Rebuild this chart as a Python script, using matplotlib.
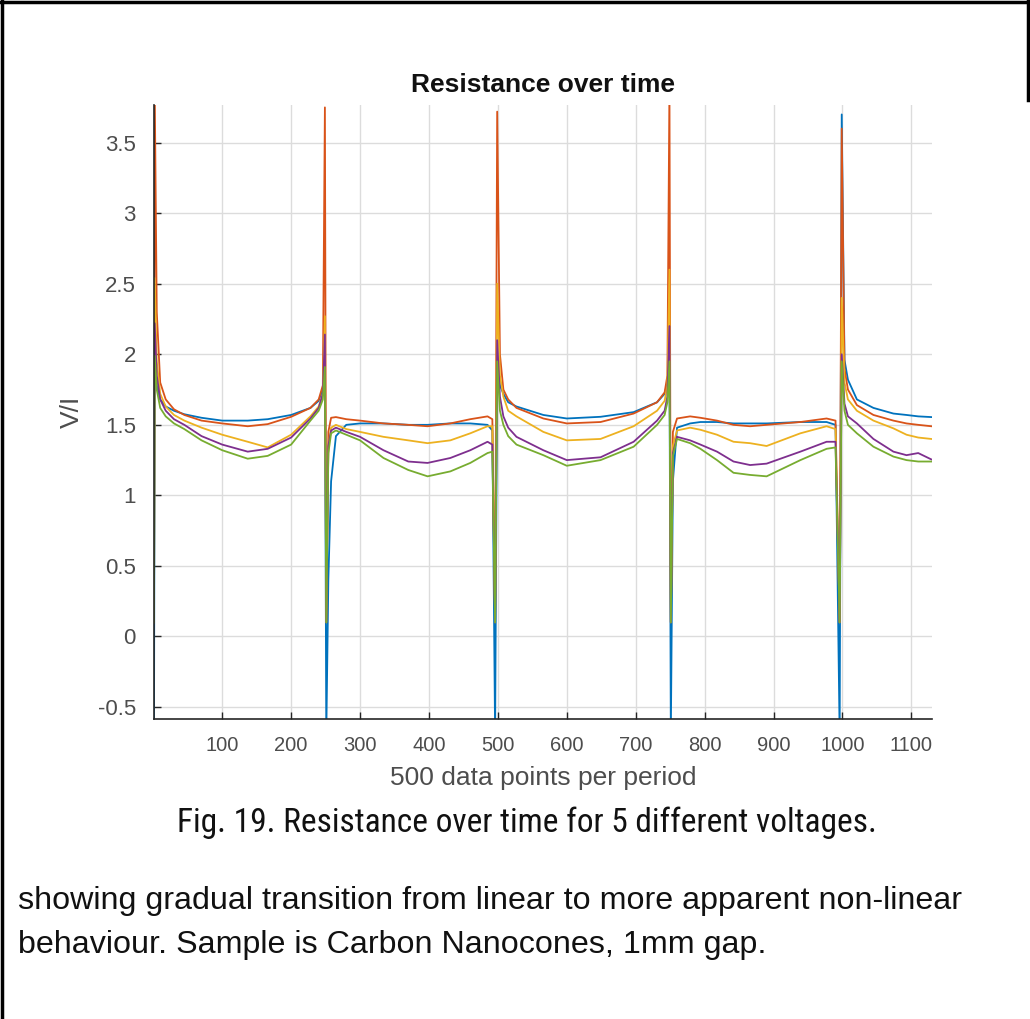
import matplotlib
matplotlib.use("Agg")
import matplotlib.pyplot as plt
from matplotlib.lines import Line2D

# sample index (shared by all five voltage runs)
x = [1, 2, 5, 10, 18, 30, 45, 70, 100, 137, 166, 200, 228, 240, 246, 249,
     251, 254, 258, 265, 280, 300, 334, 370, 398, 431, 460, 485, 492,
     496, 499, 503, 508, 515, 527, 566, 600, 649, 697, 731, 742, 746, 749,
     751, 754, 760, 779, 794, 818, 842, 866, 890, 939, 977, 990,
     996, 999, 1003, 1008, 1021, 1045, 1074, 1093, 1110, 1129]

r_blue = [-0.7, 1.95, 1.78, 1.68, 1.63, 1.60, 1.575, 1.55, 1.53, 1.53, 1.54, 1.57, 1.62, 1.67, 1.75, 2.05,
          -0.7, 0.40, 1.10, 1.42, 1.50, 1.51, 1.51, 1.50, 1.50, 1.51, 1.51, 1.50, 1.46,
          -0.7, 1.95, 1.78, 1.72, 1.66, 1.63, 1.57, 1.545, 1.557, 1.59, 1.66, 1.72, 1.80, 2.00,
          -0.7, 1.10, 1.48, 1.51, 1.52, 1.52, 1.51, 1.51, 1.51, 1.52, 1.52, 1.50,
          -0.7, 3.70, 1.96, 1.82, 1.68, 1.62, 1.58, 1.57, 1.56, 1.555]
r_orange = [0.1, 3.90, 2.30, 1.80, 1.68, 1.61, 1.57, 1.53, 1.51, 1.49, 1.505, 1.557, 1.62, 1.68, 1.78, 3.75,
            0.1, 1.45, 1.55, 1.555, 1.54, 1.53, 1.51, 1.50, 1.49, 1.51, 1.54, 1.56, 1.54,
            0.1, 3.72, 2.00, 1.75, 1.68, 1.62, 1.545, 1.51, 1.52, 1.58, 1.66, 1.73, 1.85, 3.90,
            0.1, 1.45, 1.545, 1.56, 1.55, 1.53, 1.50, 1.49, 1.50, 1.52, 1.545, 1.53,
            0.1, 3.60, 1.90, 1.75, 1.64, 1.57, 1.53, 1.51, 1.50, 1.49]
r_yellow = [0.1, 2.54, 1.95, 1.72, 1.63, 1.57, 1.53, 1.48, 1.43, 1.38, 1.34, 1.43, 1.56, 1.63, 1.72, 2.27,
            0.1, 1.35, 1.48, 1.50, 1.47, 1.45, 1.415, 1.39, 1.37, 1.39, 1.44, 1.49, 1.49,
            0.1, 2.50, 1.85, 1.70, 1.60, 1.56, 1.45, 1.39, 1.40, 1.49, 1.60, 1.67, 1.78, 2.60,
            0.1, 1.35, 1.46, 1.48, 1.465, 1.43, 1.38, 1.37, 1.35, 1.44, 1.49, 1.47,
            0.1, 2.40, 1.80, 1.68, 1.60, 1.53, 1.475, 1.43, 1.41, 1.40]
r_purple = [0.1, 2.22, 1.85, 1.68, 1.60, 1.54, 1.50, 1.42, 1.36, 1.31, 1.33, 1.41, 1.545, 1.62, 1.72, 2.14,
            0.1, 1.35, 1.46, 1.48, 1.45, 1.415, 1.32, 1.24, 1.23, 1.265, 1.32, 1.38, 1.36,
            0.1, 2.10, 1.70, 1.56, 1.48, 1.415, 1.32, 1.25, 1.27, 1.38, 1.53, 1.60, 1.70, 2.20,
            0.1, 1.30, 1.415, 1.39, 1.36, 1.31, 1.24, 1.215, 1.225, 1.31, 1.38, 1.38,
            0.1, 2.00, 1.65, 1.56, 1.51, 1.40, 1.31, 1.285, 1.30, 1.255]
r_green = [0.1, 1.99, 1.75, 1.62, 1.56, 1.51, 1.47, 1.39, 1.32, 1.26, 1.28, 1.36, 1.53, 1.60, 1.68, 1.91,
           0.1, 1.30, 1.44, 1.46, 1.43, 1.39, 1.265, 1.18, 1.135, 1.17, 1.23, 1.30, 1.31,
           0.1, 1.95, 1.60, 1.50, 1.42, 1.36, 1.285, 1.21, 1.25, 1.345, 1.50, 1.57, 1.66, 1.95,
           0.1, 1.28, 1.40, 1.37, 1.33, 1.25, 1.16, 1.145, 1.135, 1.25, 1.33, 1.34,
           0.1, 1.95, 1.60, 1.50, 1.44, 1.345, 1.275, 1.25, 1.24, 1.24]

series = [r_blue, r_orange, r_yellow, r_purple, r_green]
colors = ["#0072BD", "#D95319", "#EDB120", "#7E2F8E", "#77AC30"]

title = "Resistance over time"
xlabel = "500 data points per period"
ylabel = "V/I"
caption = "Fig. 19. Resistance over time for 5 different voltages."
para = ["showing gradual transition from linear to more apparent non-linear",
        "behaviour. Sample is Carbon Nanocones, 1mm gap."]

plt.rcParams["font.family"] = ["Liberation Sans", "DejaVu Sans"]

fig = plt.figure(figsize=(10.30, 10.19), dpi=100)
ax = fig.add_axes([154 / 1030, 1 - 719 / 1019, 778 / 1030, 614 / 1019])

for ys, c in zip(series, colors):
    ax.plot(x, ys, color=c, lw=1.3)

ax.set_xlim(1, 1130)
ax.set_ylim(-0.585, 3.767)
ax.set_xticks(range(100, 1101, 100))
ax.set_yticks([-0.5, 0, 0.5, 1, 1.5, 2, 2.5, 3, 3.5])
ax.set_yticklabels(["-0.5", "0", "0.5", "1", "1.5", "2", "2.5", "3", "3.5"])
ax.grid(True, color="#dcdcdc", lw=1)
ax.set_axisbelow(True)
for s in ["top", "right"]:
    ax.spines[s].set_visible(False)
for s in ["left", "bottom"]:
    ax.spines[s].set_color("#262626")
    ax.spines[s].set_linewidth(1.2)
ax.tick_params(direction="in", length=5, width=1, colors="#262626",
               labelcolor="#4d4d4d", labelsize=14.5)
ax.tick_params(axis="y", pad=13, labelsize=16)
ax.tick_params(axis="x", pad=12)

ax.set_xlabel(xlabel, fontsize=19, color="#4d4d4d", va="center")
ax.xaxis.set_label_coords(0.5, -0.096)
ax.set_ylabel(ylabel, fontsize=19, color="#4d4d4d", va="center")
ax.yaxis.set_label_coords(-0.105, 0.5)

fig.text(543 / 1030, 1 - 85 / 1019, title, ha="center", va="center",
         fontsize=19, fontweight="bold", color="#111111")

fig.text(527 / 1030, 1 - 823 / 1019, caption, ha="center", va="center",
         fontsize=24, family=["Roboto Condensed", "Open Sans Condensed",
                              "Liberation Sans Narrow", "Roboto"],
         color="#111111")
fig.text(18 / 1030, 1 - 901 / 1019, para[0], ha="left", va="center",
         fontsize=23.2, color="#111111")
fig.text(18 / 1030, 1 - 945 / 1019, para[1], ha="left", va="center",
         fontsize=23.2, color="#111111")

# frame of the screenshot
fig.add_artist(Line2D([0, 1], [0.998, 0.998], transform=fig.transFigure, color="black", lw=2.5))
fig.add_artist(Line2D([0.002, 0.002], [0, 1], transform=fig.transFigure, color="black", lw=2.5))
fig.add_artist(Line2D([0.998, 0.998], [1 - 100 / 1019, 1], transform=fig.transFigure, color="black", lw=2.5))

fig.savefig("out.png", dpi=100)
